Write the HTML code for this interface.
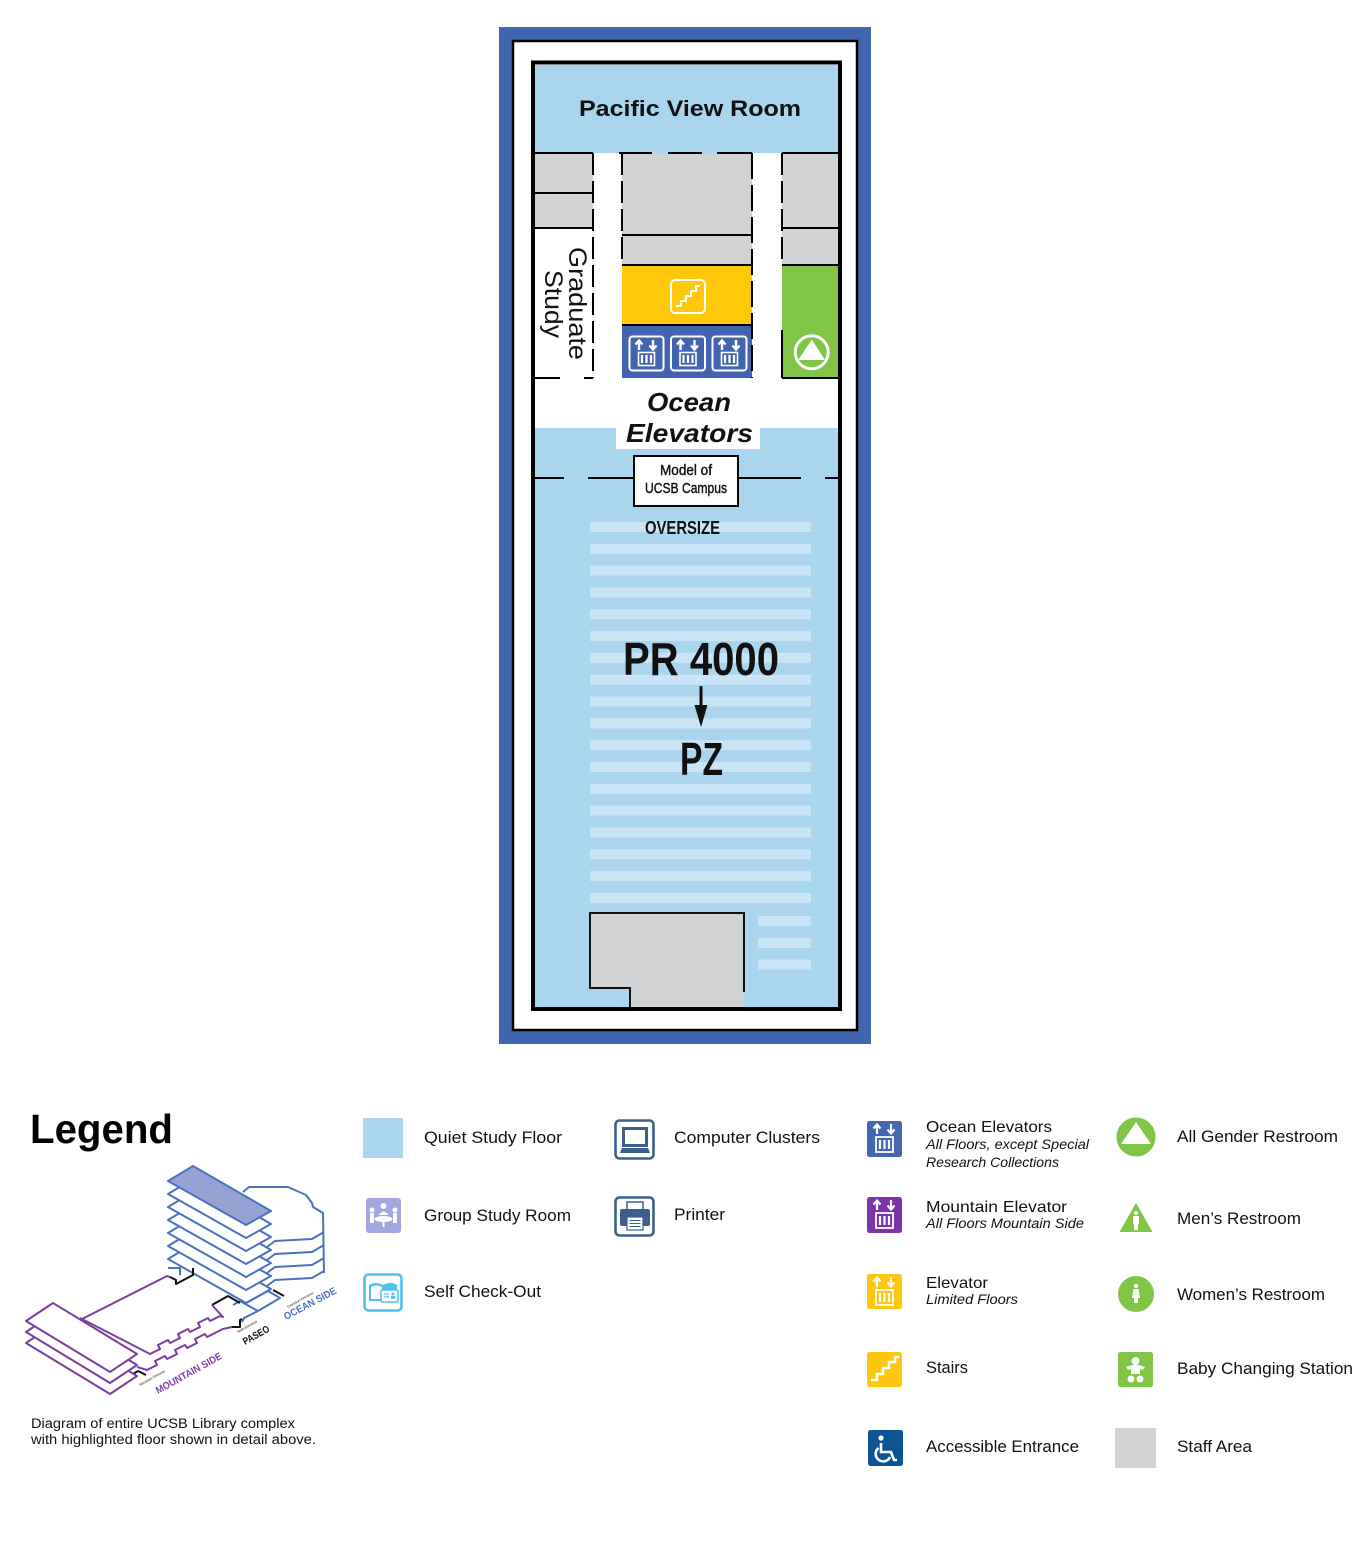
<!DOCTYPE html>
<html><head><meta charset="utf-8"><style>
html,body{margin:0;padding:0;background:#fff;}
svg{display:block;}
text{font-family:"Liberation Sans",sans-serif;}
</style></head><body>
<svg width="1369" height="1560" viewBox="0 0 1369 1560" xmlns="http://www.w3.org/2000/svg">
<rect width="1369" height="1560" fill="#fff"/>
<!-- ================= FLOOR PLAN ================= -->
<rect x="499" y="27" width="372" height="1017" fill="#4166b0"/>
<rect x="513" y="41" width="344" height="989" fill="#fff" stroke="#000" stroke-width="2.5"/>
<rect x="535" y="65" width="303" height="942" fill="#a9d5ef"/>
<text x="579" y="116" font-size="22" font-weight="bold" textLength="222" lengthAdjust="spacingAndGlyphs" fill="#111">Pacific View Room</text>
<rect x="535" y="153" width="303" height="275" fill="#fff"/>
<rect x="616" y="428" width="144" height="21" fill="#fff"/>
<rect x="535" y="153" width="58" height="75" fill="#d1d2d4"/>
<rect x="622" y="153" width="130" height="112" fill="#d1d2d4"/>
<rect x="782" y="153" width="56" height="112" fill="#d1d2d4"/>
<rect x="622" y="265" width="130" height="60" fill="#ffc80b"/>
<rect x="622" y="325" width="130" height="53" fill="#4264ae"/>
<rect x="782" y="265" width="56" height="113" fill="#80c545"/>
<g stroke="#000" stroke-width="2" fill="none">
<line x1="535" y1="153" x2="593" y2="153"/>
<line x1="782" y1="153" x2="838" y2="153"/>
<line x1="619" y1="153" x2="652" y2="153"/>
<line x1="668" y1="153" x2="702" y2="153"/>
<line x1="717" y1="153" x2="752" y2="153"/>
<line x1="535" y1="193" x2="593" y2="193"/>
<line x1="535" y1="228" x2="593" y2="228"/>
<line x1="622" y1="235" x2="752" y2="235"/>
<line x1="622" y1="265" x2="752" y2="265"/>
<line x1="622" y1="325" x2="752" y2="325"/>
<line x1="782" y1="228" x2="838" y2="228"/>
<line x1="782" y1="265" x2="838" y2="265"/>
<line x1="782" y1="378" x2="838" y2="378"/>
<line x1="535" y1="378" x2="560" y2="378"/>
<line x1="584" y1="378" x2="593" y2="378"/>
<line x1="593" y1="153" x2="593" y2="378" stroke-dasharray="22 6"/>
<line x1="622" y1="153" x2="622" y2="265" stroke-dasharray="22 6"/>
<line x1="752" y1="153" x2="752" y2="378" stroke-dasharray="26 6"/>
<line x1="782" y1="153" x2="782" y2="265" stroke-dasharray="22 6"/>
<line x1="782" y1="330" x2="782" y2="378"/>
<line x1="535" y1="478" x2="564" y2="478"/>
<line x1="588" y1="478" x2="633" y2="478"/>
<line x1="738" y1="478" x2="801" y2="478"/>
<line x1="825" y1="478" x2="838" y2="478"/>
</g>
<text transform="translate(569,247) rotate(90)" font-size="25" textLength="113" lengthAdjust="spacingAndGlyphs" fill="#111">Graduate</text>
<text transform="translate(545,270) rotate(90)" font-size="25" textLength="68" lengthAdjust="spacingAndGlyphs" fill="#111">Study</text>
<rect x="671" y="280" width="34" height="33" rx="4" fill="none" stroke="#fff" stroke-width="2"/>
<polyline points="676,306 681,306 681,301 686,301 686,296 691,296 691,291 696,291 696,286 700,286" fill="none" stroke="#fff" stroke-width="2"/>
<g id="elv" fill="none" stroke="#fff">
<rect x="629.5" y="336.5" width="34" height="34" rx="3" stroke-width="2"/>
<path d="M639 350 V341 M635.5 344.5 L639 340.5 L642.5 344.5" stroke-width="2.4"/>
<path d="M653 340 V349 M649.5 345.5 L653 349.5 L656.5 345.5" stroke-width="2.4"/>
<rect x="638.5" y="352.5" width="16" height="13" stroke-width="1.6"/>
<path d="M642 355 V363 M646.5 355 V363 M651 355 V363" stroke-width="2.2"/>
</g>
<use href="#elv" x="41.5"/>
<use href="#elv" x="83"/>
<circle cx="811.7" cy="352.3" r="16.5" fill="none" stroke="#fff" stroke-width="3"/>
<polygon points="811.7,339.5 825,360 798.4,360" fill="#fff"/>
<text x="647" y="411" font-size="26" font-weight="bold" font-style="italic" textLength="84" lengthAdjust="spacingAndGlyphs" fill="#111">Ocean</text>
<text x="626" y="442" font-size="26" font-weight="bold" font-style="italic" textLength="127" lengthAdjust="spacingAndGlyphs" fill="#111">Elevators</text>
<rect x="634" y="456" width="104" height="50" fill="#fff" stroke="#000" stroke-width="2"/>
<text x="660" y="475" font-size="15" textLength="52" lengthAdjust="spacingAndGlyphs" fill="#111" stroke="#111" stroke-width="0.4">Model of</text>
<text x="645" y="493" font-size="15" textLength="82" lengthAdjust="spacingAndGlyphs" fill="#111" stroke="#111" stroke-width="0.4">UCSB Campus</text>
<g fill="#c9e4f6">
<rect x="590" y="522" width="221" height="10"/><rect x="590" y="543.8" width="221" height="10"/><rect x="590" y="565.6" width="221" height="10"/><rect x="590" y="587.5" width="221" height="10"/><rect x="590" y="609.3" width="221" height="10"/><rect x="590" y="631.1" width="221" height="10"/><rect x="590" y="652.9" width="221" height="10"/><rect x="590" y="674.7" width="221" height="10"/><rect x="590" y="696.6" width="221" height="10"/><rect x="590" y="718.4" width="221" height="10"/><rect x="590" y="740.2" width="221" height="10"/><rect x="590" y="762" width="221" height="10"/><rect x="590" y="783.8" width="221" height="10"/><rect x="590" y="805.6" width="221" height="10"/><rect x="590" y="827.5" width="221" height="10"/><rect x="590" y="849.3" width="221" height="10"/><rect x="590" y="871.1" width="221" height="10"/><rect x="590" y="893" width="221" height="10"/>
<rect x="758" y="916" width="53" height="10"/><rect x="758" y="938" width="53" height="10"/><rect x="758" y="959.5" width="53" height="10"/>
</g>
<text x="645" y="534" font-size="18" font-weight="bold" textLength="75" lengthAdjust="spacingAndGlyphs" fill="#111">OVERSIZE</text>
<text x="623" y="675" font-size="46" font-weight="bold" textLength="156" lengthAdjust="spacingAndGlyphs" fill="#111">PR 4000</text>
<line x1="701" y1="686" x2="701" y2="708" stroke="#111" stroke-width="3"/>
<polygon points="694.5,705 707.5,705 701,727" fill="#111"/>
<text x="680" y="775" font-size="46" font-weight="bold" textLength="43" lengthAdjust="spacingAndGlyphs" fill="#111">PZ</text>
<polygon points="590,913 744,913 744,1007 630,1007 630,988 590,988" fill="#d1d2d4"/>
<polyline points="630,1007 630,988 590,988 590,913 744,913 744,992" fill="none" stroke="#111" stroke-width="2"/>
<rect x="533" y="62.5" width="307" height="946.5" fill="none" stroke="#000" stroke-width="4"/>

<!-- ================= LEGEND ================= -->
<text x="30" y="1143" font-size="41" font-weight="bold" textLength="143" lengthAdjust="spacingAndGlyphs" fill="#000">Legend</text>

<g fill="none" stroke-width="2" stroke-linejoin="round">
<g stroke="#4a72c0">
<polyline points="243,1192 249,1187 288,1187 306,1195 312,1203 313,1207 323,1213 324,1273"/>
<polyline points="324,1232 312,1239 275,1241 267,1247"/>
<polyline points="324,1245 312,1252 275,1254 267,1260"/>
<polyline points="324,1258 312,1265 275,1267 267,1273"/>
<polyline points="324,1271 312,1278 275,1280 267,1286"/>
<polyline points="246,1303 268,1291 280,1298 258,1311 240,1301"/>
<polyline points="240,1301 233,1305"/>
<polyline points="258,1311 244,1318 242,1322"/>
<polyline points="168,1268 180,1268 180,1275"/>
</g>
<g stroke="#4a72c0" fill="#fff">
<polygon points="168,1259 193,1244 271,1289 246,1303"/>
<polygon points="168,1246 193,1231 271,1276 246,1290"/>
<polygon points="168,1233 193,1218 271,1263 246,1277"/>
<polygon points="168,1220 193,1205 271,1250 246,1264"/>
<polygon points="168,1207 193,1192 271,1237 246,1251"/>
<polygon points="168,1194 193,1179 271,1224 246,1238"/>
<polygon points="168,1181 193,1166 271,1211 246,1225" fill="#95a3d4"/>
</g>
<g stroke="#111">
<polyline points="170,1277 176,1280 176,1284 193,1275 193,1268"/>
<polyline points="212,1305 228,1296 240,1303"/>
<polyline points="232,1327 240,1327 240,1320 242,1319"/>
<line x1="273" y1="1290" x2="284" y2="1296"/>
<polyline points="133,1374 138,1371 146,1375"/>
</g>
<g stroke="#7b3fa0">
<polygon points="26,1343 53,1325 137,1376 110,1394" fill="#fff"/>
<polygon points="26,1332 53,1314 137,1365 110,1383" fill="#fff"/>
<polygon points="26,1321 53,1303 137,1354 110,1372" fill="#fff"/>
<polyline points="170,1277 167,1276 80,1320"/>
<polyline points="80,1318 150,1354 160,1349 158,1345 168,1340 170,1343 180,1338 178,1334 188,1329 190,1332 200,1327 198,1323 208,1318 210,1321 220,1316 223,1317 212,1305"/>
<polyline points="137,1367 147,1370 157,1365 155,1361 165,1356 167,1359 177,1354 175,1350 185,1345 187,1348 197,1343 195,1339 205,1334 207,1337 217,1332 223,1329 232,1327"/>
</g>
</g>
<text transform="translate(158,1394) rotate(-29)" font-size="10" font-weight="bold" fill="#7b3fa0" textLength="74" lengthAdjust="spacingAndGlyphs">MOUNTAIN SIDE</text>
<text transform="translate(245,1345) rotate(-29)" font-size="10" font-weight="bold" fill="#111" textLength="29" lengthAdjust="spacingAndGlyphs">PASEO</text>
<text transform="translate(286,1320) rotate(-28)" font-size="10" font-weight="bold" fill="#4a72c0" textLength="58" lengthAdjust="spacingAndGlyphs">OCEAN SIDE</text>
<text transform="translate(140,1386) rotate(-29)" font-size="3.5" fill="#111">Mountain Entrance</text>
<text transform="translate(238,1333) rotate(-29)" font-size="3.5" fill="#111">Main Entrance</text>
<text transform="translate(288,1308) rotate(-29)" font-size="3.5" fill="#111">Davidson Entrance</text>

<text x="31" y="1428" font-size="13.5" textLength="264" lengthAdjust="spacingAndGlyphs" fill="#111">Diagram of entire UCSB Library complex</text>
<text x="31" y="1444" font-size="13.5" textLength="285" lengthAdjust="spacingAndGlyphs" fill="#111">with highlighted floor shown in detail above.</text>

<rect x="363" y="1118" width="40" height="40" fill="#a9d5ef"/>
<text x="424" y="1143" font-size="17" textLength="138" lengthAdjust="spacingAndGlyphs" fill="#111">Quiet Study Floor</text>

<rect x="366" y="1198" width="35" height="35" rx="3" fill="#a3a6e0"/>
<g fill="#fff">
<circle cx="383.5" cy="1206" r="3"/>
<path d="M378.5 1215 Q383.5 1208 388.5 1215 Z"/>
<circle cx="372" cy="1210" r="2.5"/>
<circle cx="395" cy="1210" r="2.5"/>
<rect x="370" y="1213" width="4" height="10"/>
<rect x="393" y="1213" width="4" height="10"/>
<ellipse cx="383.5" cy="1219" rx="9" ry="3"/>
<rect x="382.5" y="1219" width="2" height="8"/>
</g>
<text x="424" y="1221" font-size="17" textLength="147" lengthAdjust="spacingAndGlyphs" fill="#111">Group Study Room</text>

<rect x="364.5" y="1274.5" width="37" height="36" rx="4" fill="#fff" stroke="#52c0ee" stroke-width="2.6"/>
<path d="M369 1285 Q376 1281 383 1285 Q390 1281 397 1285 V1301 H369 Z" fill="#52c0ee"/>
<path d="M371 1287 Q376 1284 382 1287 V1299 H371 Z" fill="#fff"/>
<rect x="381" y="1290" width="17" height="12" rx="1" fill="#fff" stroke="#52c0ee" stroke-width="1.5"/>
<path d="M384 1294 H389 M384 1297 H389" stroke="#52c0ee" stroke-width="1.2"/>
<circle cx="393" cy="1294" r="1.5" fill="#52c0ee"/>
<rect x="391" y="1296" width="4" height="3" fill="#52c0ee"/>
<text x="424" y="1297" font-size="17" textLength="117" lengthAdjust="spacingAndGlyphs" fill="#111">Self Check-Out</text>

<rect x="615.5" y="1120.5" width="38" height="38" rx="4" fill="#fff" stroke="#3d5f8f" stroke-width="2.6"/>
<rect x="622" y="1127" width="26" height="20" fill="#3d5f8f"/>
<rect x="625" y="1130" width="20" height="14" fill="#fff"/>
<path d="M620 1153 L622 1148 H648 L650 1153 Z" fill="#3d5f8f"/>
<text x="674" y="1143" font-size="17" textLength="146" lengthAdjust="spacingAndGlyphs" fill="#111">Computer Clusters</text>

<rect x="615.5" y="1197.5" width="38" height="38" rx="4" fill="#fff" stroke="#3d5f8f" stroke-width="2.6"/>
<rect x="627" y="1202" width="16" height="8" fill="#fff" stroke="#3d5f8f" stroke-width="1.5"/>
<rect x="620" y="1209" width="30" height="17" rx="2" fill="#3d5f8f"/>
<rect x="627" y="1217" width="16" height="13" fill="#fff" stroke="#3d5f8f" stroke-width="1.2"/>
<path d="M629.5 1220.5 H640.5 M629.5 1223.5 H640.5 M629.5 1226.5 H640.5" stroke="#3d5f8f" stroke-width="1"/>
<text x="674" y="1220" font-size="17" textLength="51" lengthAdjust="spacingAndGlyphs" fill="#111">Printer</text>

<rect x="867" y="1121" width="35" height="36" rx="2.5" fill="#4367b0"/>
<g fill="none" stroke="#fff">
<path d="M877 1134 V1125 M873.5 1128.5 L877 1124.5 L880.5 1128.5" stroke-width="2.2"/>
<path d="M891 1124 V1133 M887.5 1129.5 L891 1133.5 L894.5 1129.5" stroke-width="2.2"/>
<rect x="876" y="1137" width="17" height="15" stroke-width="1.8"/>
<path d="M880 1140 V1149 M884.5 1140 V1149 M889 1140 V1149" stroke-width="2.2"/>
</g>
<text x="926" y="1132" font-size="16" textLength="126" lengthAdjust="spacingAndGlyphs" fill="#111">Ocean Elevators</text>
<text x="926" y="1149" font-size="14" font-style="italic" textLength="163" lengthAdjust="spacingAndGlyphs" fill="#111">All Floors, except Special</text>
<text x="926" y="1167" font-size="14" font-style="italic" textLength="133" lengthAdjust="spacingAndGlyphs" fill="#111">Research Collections</text>

<rect x="867" y="1197" width="35" height="36" rx="2.5" fill="#7b35a8"/>
<g fill="none" stroke="#fff">
<path d="M877 1210 V1201 M873.5 1204.5 L877 1200.5 L880.5 1204.5" stroke-width="2.2"/>
<path d="M891 1200 V1209 M887.5 1205.5 L891 1209.5 L894.5 1205.5" stroke-width="2.2"/>
<rect x="876" y="1213" width="17" height="15" stroke-width="1.8"/>
<path d="M880 1216 V1225 M884.5 1216 V1225 M889 1216 V1225" stroke-width="2.2"/>
</g>
<text x="926" y="1212" font-size="16" textLength="141" lengthAdjust="spacingAndGlyphs" fill="#111">Mountain Elevator</text>
<text x="926" y="1228" font-size="14" font-style="italic" textLength="158" lengthAdjust="spacingAndGlyphs" fill="#111">All Floors Mountain Side</text>

<rect x="867" y="1274" width="35" height="35" rx="2.5" fill="#fdc70e"/>
<g fill="none" stroke="#fff">
<path d="M877 1287 V1278 M873.5 1281.5 L877 1277.5 L880.5 1281.5" stroke-width="2.2"/>
<path d="M891 1277 V1286 M887.5 1282.5 L891 1286.5 L894.5 1282.5" stroke-width="2.2"/>
<rect x="876" y="1290" width="17" height="15" stroke-width="1.8"/>
<path d="M880 1293 V1302 M884.5 1293 V1302 M889 1293 V1302" stroke-width="2.2"/>
</g>
<text x="926" y="1288" font-size="16" textLength="62" lengthAdjust="spacingAndGlyphs" fill="#111">Elevator</text>
<text x="926" y="1304" font-size="14" font-style="italic" textLength="92" lengthAdjust="spacingAndGlyphs" fill="#111">Limited Floors</text>

<rect x="867" y="1352" width="35" height="35" rx="2.5" fill="#fdc70e"/>
<polyline points="871,1380 877,1380 877,1374 883,1374 883,1368 889,1368 889,1362 895,1362 895,1357 899,1357" fill="none" stroke="#fff" stroke-width="2.6"/>
<text x="926" y="1373" font-size="17" textLength="42" lengthAdjust="spacingAndGlyphs" fill="#111">Stairs</text>

<rect x="868" y="1430" width="35" height="36" rx="2.5" fill="#0d5493"/>
<g fill="none" stroke="#fff" stroke-width="2.6">
<path d="M881 1443 V1452 H891 L894 1460 H897"/>
<path d="M878.5 1448 A7.5 7.5 0 1 0 890 1457"/>
</g>
<circle cx="881" cy="1438" r="2.6" fill="#fff"/>
<text x="926" y="1452" font-size="17" textLength="153" lengthAdjust="spacingAndGlyphs" fill="#111">Accessible Entrance</text>

<circle cx="1136" cy="1137" r="18" fill="#80c545"/>
<polygon points="1136,1122 1151,1144 1121,1144" fill="#fff"/>
<circle cx="1136" cy="1137" r="18" fill="none" stroke="#80c545" stroke-width="3"/>
<text x="1177" y="1142" font-size="17" textLength="161" lengthAdjust="spacingAndGlyphs" fill="#111">All Gender Restroom</text>

<polygon points="1136,1203 1152.5,1232 1119.5,1232" fill="#80c545"/>
<circle cx="1136" cy="1213" r="2" fill="#fff"/>
<rect x="1133" y="1216" width="6" height="8" fill="#fff"/>
<rect x="1134" y="1223" width="4" height="7" fill="#fff"/>
<text x="1177" y="1224" font-size="17" textLength="124" lengthAdjust="spacingAndGlyphs" fill="#111">Men’s Restroom</text>

<circle cx="1136" cy="1294" r="18" fill="#80c545"/>
<circle cx="1136" cy="1286" r="2.2" fill="#fff"/>
<path d="M1133.5 1289 H1138.5 L1140 1298 H1132 Z" fill="#fff"/>
<rect x="1134" y="1297" width="4" height="6" fill="#fff"/>
<text x="1177" y="1300" font-size="17" textLength="148" lengthAdjust="spacingAndGlyphs" fill="#111">Women’s Restroom</text>

<rect x="1118" y="1352" width="35" height="35" rx="2.5" fill="#80c545"/>
<g fill="#fff">
<circle cx="1135.5" cy="1361" r="4"/>
<path d="M1126 1367 Q1135.5 1363 1145 1367 L1143 1370 L1140 1369 V1374 H1131 V1369 L1128 1370 Z"/>
<circle cx="1131" cy="1379" r="3.5"/>
<circle cx="1140" cy="1379" r="3.5"/>
</g>
<text x="1177" y="1374" font-size="17" textLength="176" lengthAdjust="spacingAndGlyphs" fill="#111">Baby Changing Station</text>

<rect x="1115" y="1428" width="41" height="40" fill="#d1d2d4"/>
<text x="1177" y="1452" font-size="17" textLength="75" lengthAdjust="spacingAndGlyphs" fill="#111">Staff Area</text>
</svg>
</body></html>
